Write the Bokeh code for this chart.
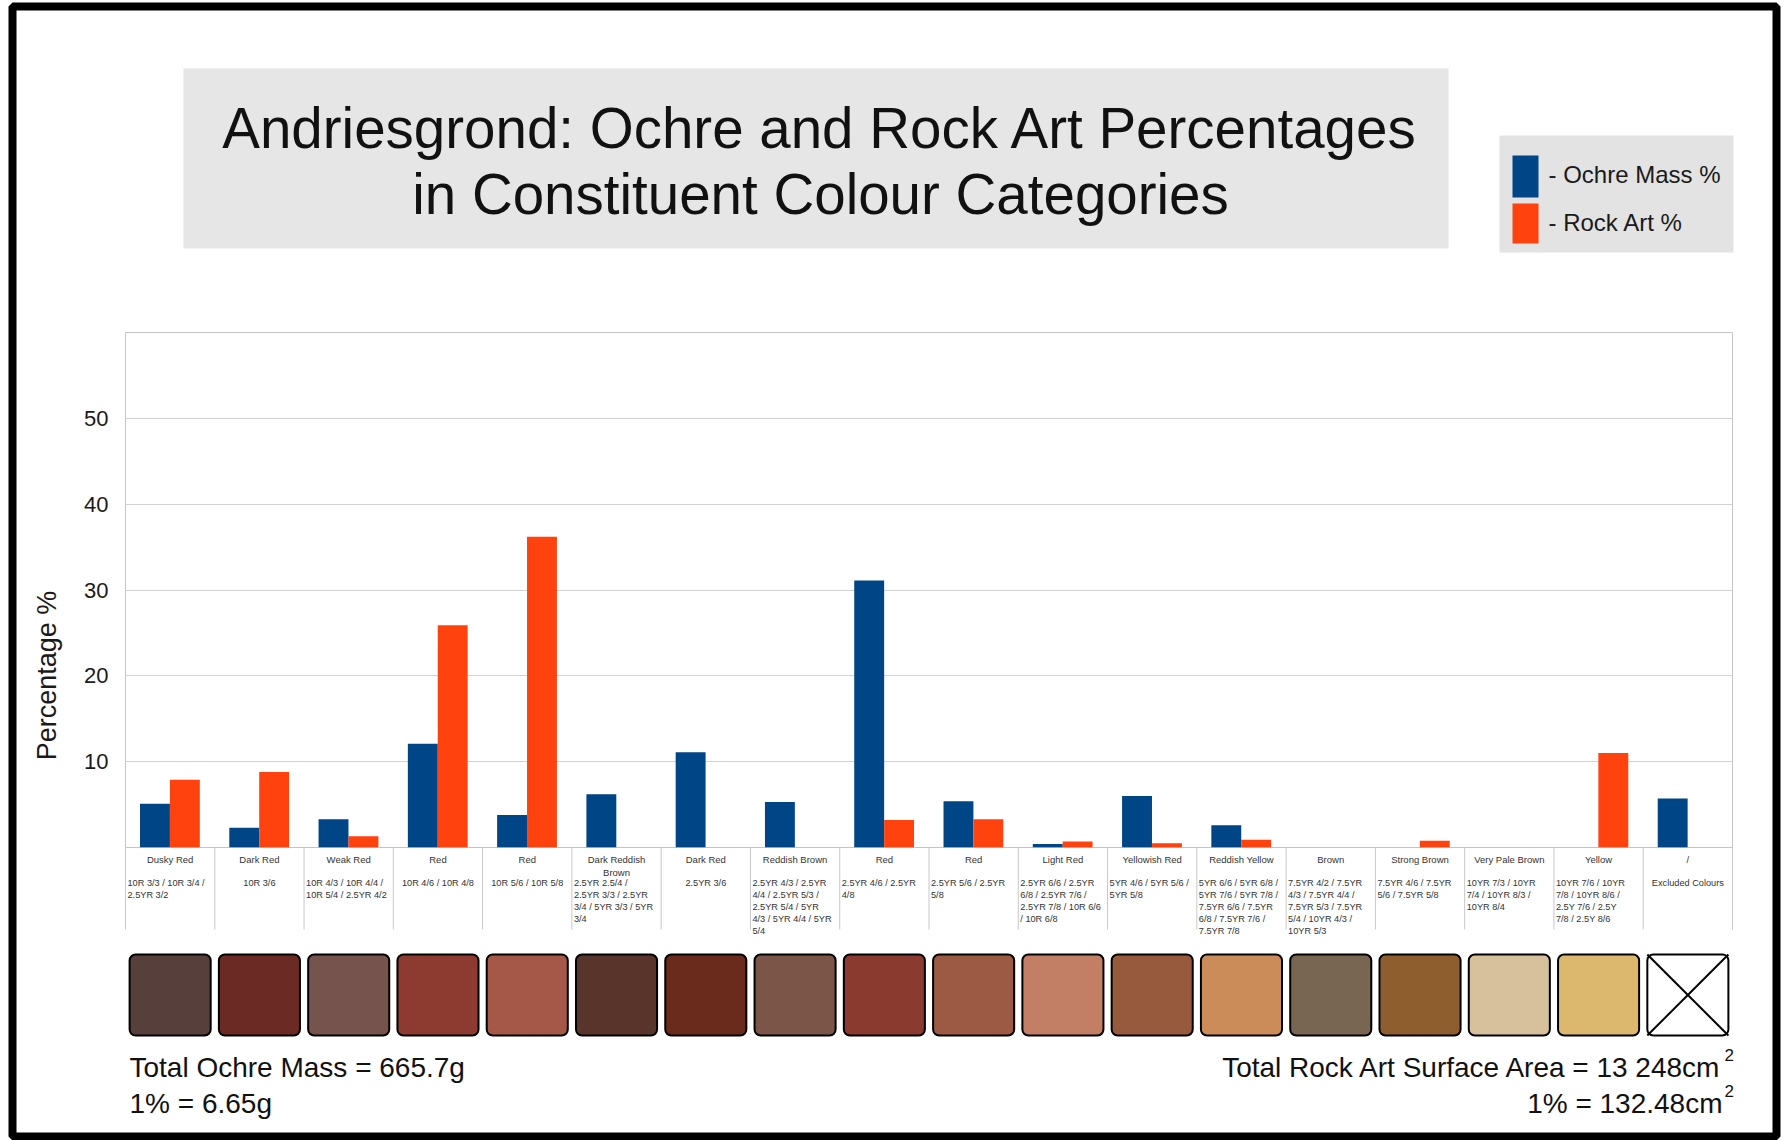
import math
from bokeh.plotting import figure
from bokeh.models import Range1d, FixedTicker, ColumnDataSource, Quad
from bokeh.embed import file_html
from bokeh.resources import INLINE
from bokeh.core.properties import value

# ---------------- data ----------------
category_names = ["Dusky Red", "Dark Red", "Weak Red", "Red", "Red", "Dark Reddish\nBrown",
                  "Dark Red", "Reddish Brown", "Red", "Red", "Light Red", "Yellowish Red",
                  "Reddish Yellow", "Brown", "Strong Brown", "Very Pale Brown", "Yellow", "/"]

munsell_codes = [
    "10R 3/3 / 10R 3/4  /\n2.5YR 3/2",
    "10R 3/6",
    "10R 4/3 / 10R 4/4 /\n10R 5/4 / 2.5YR 4/2",
    "10R 4/6 / 10R 4/8",
    "10R 5/6 / 10R 5/8",
    "2.5YR 2.5/4 /\n2.5YR 3/3 / 2.5YR\n3/4 / 5YR 3/3 / 5YR\n3/4",
    "2.5YR 3/6",
    "2.5YR 4/3 / 2.5YR\n4/4 / 2.5YR 5/3 /\n2.5YR 5/4 / 5YR\n4/3 / 5YR 4/4 / 5YR\n5/4",
    "2.5YR 4/6 / 2.5YR\n4/8",
    "2.5YR 5/6 / 2.5YR\n5/8",
    "2.5YR 6/6 / 2.5YR\n6/8 / 2.5YR 7/6 /\n2.5YR 7/8 / 10R 6/6\n/ 10R 6/8",
    "5YR 4/6 / 5YR 5/6 /\n5YR 5/8",
    "5YR 6/6 / 5YR 6/8 /\n5YR 7/6 / 5YR 7/8 /\n7.5YR 6/6 / 7.5YR\n6/8 / 7.5YR 7/6 /\n7.5YR 7/8",
    "7.5YR 4/2 / 7.5YR\n4/3 / 7.5YR 4/4 /\n7.5YR 5/3 / 7.5YR\n5/4 / 10YR 4/3 /\n10YR 5/3",
    "7.5YR 4/6 / 7.5YR\n5/6 / 7.5YR 5/8",
    "10YR 7/3 / 10YR\n7/4 / 10YR 8/3 /\n10YR 8/4",
    "10YR 7/6 / 10YR\n7/8 / 10YR 8/6 /\n2.5Y 7/6 / 2.5Y\n7/8 / 2.5Y 8/6",
    "Excluded Colours",
]

ochre_mass_pct = [5.1, 2.3, 3.3, 12.1, 3.8, 6.2, 11.1, 5.3, 31.1, 5.4, 0.4, 6.0, 2.6,
                  0.0, 0.0, 0.0, 0.0, 5.7]
rock_art_pct = [7.9, 8.8, 1.3, 25.9, 36.2, 0.0, 0.0, 0.0, 3.2, 3.3, 0.7, 0.5, 0.9,
                0.0, 0.8, 0.0, 11.0, 0.0]

swatch_colours = ["#57403c", "#6b2a24", "#77534d", "#8d3b30", "#a65848", "#58342a",
                  "#6a2a1c", "#7a5548", "#8a3a2e", "#9c5a45", "#c27f66", "#985a3c",
                  "#cc8c5a", "#786552", "#8e5e2e", "#d6c19c", "#dbb86e", "#ffffff"]

y_ticks = [10, 20, 30, 40, 50]

title_lines = ["Andriesgrond: Ochre and Rock Art Percentages",
               "in Constituent Colour Categories"]
series_labels = ["- Ochre Mass %", "- Rock Art %"]
series_colours = ["#004586", "#ff420e"]
y_title = "Percentage %"
notes_left = ["Total Ochre Mass = 665.7g", "1% = 6.65g"]
notes_right = ["Total Rock Art Surface Area = 13 248cm", "1% = 132.48cm"]

# ---------------- figure ----------------
FONT = "Liberation Sans"
n = len(category_names)

p = figure(width=1784, height=1140, output_backend="svg", toolbar_location=None,
           x_range=Range1d(0, n), y_range=Range1d(0, 60),
           min_border_left=125, min_border_right=52, min_border_top=332,
           min_border_bottom=293, title=None)
# pixel helper ranges (picture coordinates) used only for decorations
p.extra_x_ranges = {"px": Range1d(125, 1732)}
p.extra_y_ranges = {"py": Range1d(847, 332)}
PX = dict(x_range_name="px", y_range_name="py", level="overlay")
OV = dict(level="overlay")

p.background_fill_color = "white"
p.border_fill_color = "white"
p.outline_line_color = "#c4c4c4"
p.outline_line_width = 1

# grid
p.xgrid.visible = False
p.ygrid.ticker = FixedTicker(ticks=y_ticks)
p.ygrid.grid_line_color = "#d2d2d2"
p.ygrid.grid_line_width = 1

# y axis
p.yaxis.ticker = FixedTicker(ticks=y_ticks)
p.yaxis.axis_line_color = None
p.yaxis.major_tick_line_color = None
p.yaxis.minor_tick_line_color = None
p.yaxis.major_label_text_font = FONT
p.yaxis.major_label_text_font_size = "22px"
p.yaxis.major_label_text_color = "#1a1a1a"
p.yaxis.major_label_standoff = 11

# x axis: category names
centers = [i + 0.5 for i in range(n)]
p.xaxis.ticker = FixedTicker(ticks=centers, minor_ticks=[])
p.xaxis.major_label_overrides = {c: name for c, name in zip(centers, category_names)}
p.xaxis.axis_line_color = None
p.xaxis.major_tick_line_color = None
p.xaxis.minor_tick_line_color = None
p.xaxis.major_tick_out = 0
p.xaxis.major_tick_in = 0
p.xaxis.minor_tick_out = 0
p.xaxis.major_label_text_font = FONT
p.xaxis.major_label_text_font_size = "9.5px"
p.xaxis.major_label_text_color = "#333333"
p.xaxis.major_label_standoff = 6

# cell separators below the plot
p.segment(x0=list(range(n + 1)), x1=list(range(n + 1)), y0=[847] * (n + 1),
          y1=[929] * (n + 1), line_color="#c8c8c8", line_width=1, y_range_name="py", **OV)

# bars
bar_w = 0.335
src = ColumnDataSource(dict(
    xb=[i + 0.33 for i in range(n)], xo=[i + 0.665 for i in range(n)],
    ochre=ochre_mass_pct, rock=rock_art_pct))
p.vbar(x="xb", top="ochre", bottom=0, width=bar_w, source=src,
       fill_color=series_colours[0], line_color=None)
p.vbar(x="xo", top="rock", bottom=0, width=bar_w, source=src,
       fill_color=series_colours[1], line_color=None)

# legend (drawn by hand above the plot frame)
p.quad(left=[1499], right=[1733], top=[135], bottom=[252], fill_color="#e3e3e3",
       line_color=None, **PX)
p.quad(left=[1512, 1512], right=[1538, 1538], top=[155, 203], bottom=[197, 243],
       fill_color=series_colours, line_color=None, **PX)
p.text(x=[1548, 1548], y=[174, 222], text=series_labels, text_align="left",
       text_baseline="middle", text_font=value(FONT), text_font_size="24px",
       text_color="#1a1a1a", **PX)

# title box and title
p.quad(left=[183], right=[1448], top=[68], bottom=[248], fill_color="#e6e6e6",
       line_color=None, **PX)
p.text(x=[820, 820], y=[128, 194], text=title_lines, text_align="center",
       text_baseline="middle", text_font=value(FONT), text_font_size="56.5px",
       text_color="#111111", **PX)

# y axis title
p.text(x=[46], y=[675], text=[y_title], angle=math.pi / 2, text_align="center",
       text_baseline="middle", text_font=value(FONT), text_font_size="27px",
       text_color="#1a1a1a", **PX)

# munsell code texts
single = dict(x=[], y=[], t=[])
multi = dict(x=[], y=[], t=[])
for i, code in enumerate(munsell_codes):
    if "\n" in code:
        multi["x"].append(i); multi["y"].append(877); multi["t"].append(code)
    else:
        single["x"].append(i + 0.5); single["y"].append(877); single["t"].append(code)
p.text(x="x", y="y", text="t", source=ColumnDataSource(single), y_range_name="py",
       text_align="center", text_baseline="top", text_font=value(FONT),
       text_font_size="9.2px", text_color="#333333", text_line_height=1.2, **OV)
p.text(x="x", y="y", text="t", source=ColumnDataSource(multi), y_range_name="py",
       x_offset=2, text_align="left", text_baseline="top", text_font=value(FONT),
       text_font_size="9.2px", text_color="#333333", text_line_height=1.2, **OV)

# colour swatches
sw_kw = {}
if "border_radius" in Quad.properties():
    sw_kw["border_radius"] = 6
sw_src = ColumnDataSource(dict(left=[i + 0.046 for i in range(n)],
                               right=[i + 0.954 for i in range(n)],
                               top=[954] * n, bottom=[1035] * n, c=swatch_colours))
p.quad(left="left", right="right", top="top", bottom="bottom", fill_color="c",
       line_color="black", line_width=2, source=sw_src, y_range_name="py", **sw_kw, **OV)
last = n - 1
p.segment(x0=[last + 0.046, last + 0.046], y0=[954, 1035],
          x1=[last + 0.954, last + 0.954], y1=[1035, 954],
          line_color="black", line_width=2, y_range_name="py", **OV)

# bottom notes
note_kw = dict(text_font=value(FONT), text_color="#111111", text_baseline="middle")
p.text(x=[129, 129], y=[1067, 1103], text=notes_left, text_align="left",
       text_font_size="28px", **note_kw, **PX)
p.text(x=[1722, 1722], y=[1067, 1103], text=notes_right, text_align="right",
       text_font_size="28px", **note_kw, **PX)
p.text(x=[1724, 1724], y=[1054, 1090], text=["2", "2"], text_align="left",
       text_font_size="17px", **note_kw, **PX)

# outer black frame
p.quad(left=[12], right=[1776], top=[6], bottom=[1136], fill_color=None,
       line_color="black", line_width=8, **PX)

open("out.html", "w").write(file_html(p, INLINE))
